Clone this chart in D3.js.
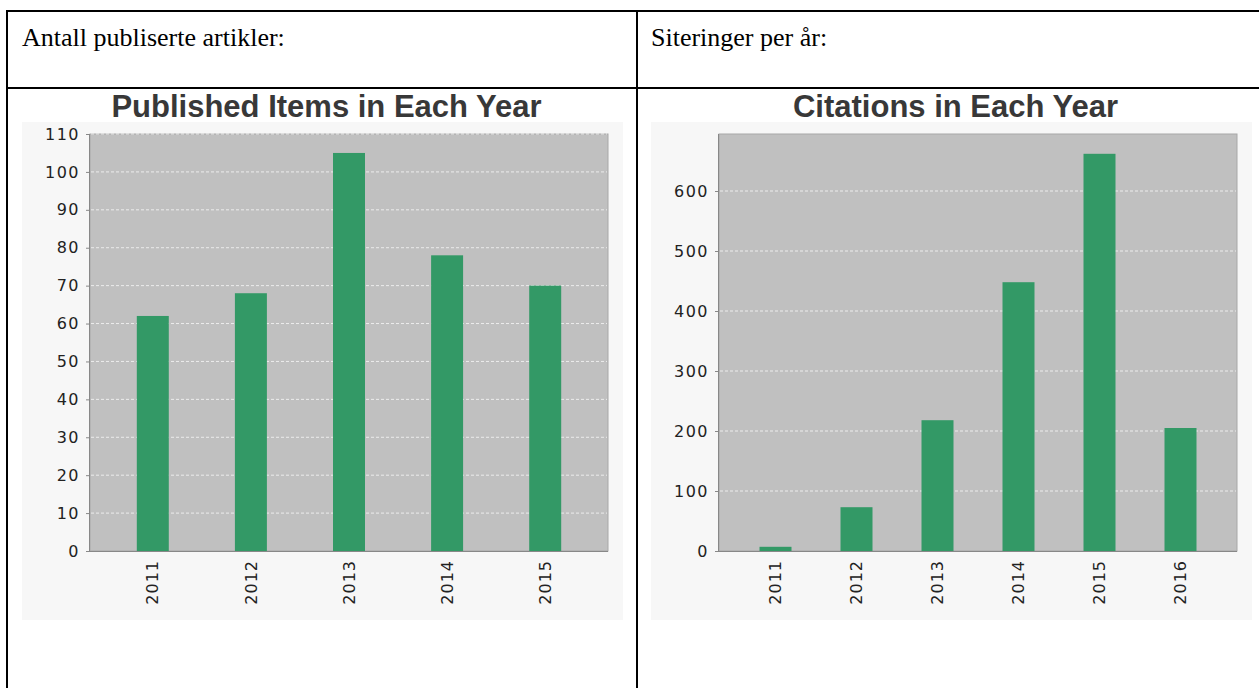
<!DOCTYPE html>
<html>
<head>
<meta charset="utf-8">
<script src="https://cdn.jsdelivr.net/npm/d3@7"></script>
<style>
  html, body { margin: 0; padding: 0; background: #ffffff; }
  svg { display: block; }
</style>
</head>
<body>
<svg id="chart" width="1259" height="688"></svg>
<script>
// ---- data ----
const headerTexts = ["Antall publiserte artikler:", "Siteringer per år:"];
const chartTitles = ["Published Items in Each Year", "Citations in Each Year"];
const pubYears = ["2011", "2012", "2013", "2014", "2015"];
const pubValues = [62, 68, 105, 78, 70];
const pubTicks = [0, 10, 20, 30, 40, 50, 60, 70, 80, 90, 100, 110];
const citYears = ["2011", "2012", "2013", "2014", "2015", "2016"];
const citValues = [7, 73, 218, 448, 662, 205];
const citTicks = [0, 100, 200, 300, 400, 500, 600];

const svg = d3.select("#chart");
svg.append("rect").attr("width", 1259).attr("height", 688).attr("fill", "#ffffff");

// ---- table frame ----
const tbl = svg.append("g").attr("stroke", "#000").attr("stroke-width", 2);
tbl.append("line").attr("x1", 6).attr("x2", 1259).attr("y1", 11).attr("y2", 11);
tbl.append("line").attr("x1", 6).attr("x2", 1259).attr("y1", 88).attr("y2", 88);
tbl.append("line").attr("x1", 7).attr("x2", 7).attr("y1", 10).attr("y2", 688);
tbl.append("line").attr("x1", 637).attr("x2", 637).attr("y1", 10).attr("y2", 688);

svg.append("text").attr("x", 22).attr("y", 46)
  .attr("font-family", "Liberation Serif, Times New Roman, serif").attr("font-size", 26)
  .attr("fill", "#000").text(headerTexts[0]);
svg.append("text").attr("x", 651).attr("y", 46)
  .attr("font-family", "Liberation Serif, Times New Roman, serif").attr("font-size", 26)
  .attr("fill", "#000").text(headerTexts[1]);

function drawChart(cfg) {
  const g = svg.append("g");
  // panel
  g.append("rect").attr("x", cfg.px0).attr("y", 122).attr("width", cfg.px1 - cfg.px0).attr("height", 498)
    .attr("fill", "#f7f7f7");
  // title
  g.append("text").attr("x", (cfg.px0 + cfg.px1) / 2 + 4).attr("y", 117)
    .attr("text-anchor", "middle")
    .attr("font-family", "Liberation Sans, Arial, sans-serif").attr("font-weight", "bold")
    .attr("font-size", 31).attr("fill", "#383838").text(cfg.title);

  const x = d3.scaleBand().domain(cfg.cats).range([cfg.x0, cfg.x1])
    .paddingInner(cfg.pi).paddingOuter(cfg.po);
  const y = d3.scaleLinear().domain([0, cfg.ymax]).range([551, 134]);

  // plot background
  g.append("rect").attr("x", cfg.x0).attr("y", 134).attr("width", cfg.x1 - cfg.x0).attr("height", 551 - 134)
    .attr("fill", "#c0c0c0").attr("stroke", "#a8a8a8").attr("stroke-width", 1);

  // grid
  g.append("g").selectAll("line").data(cfg.ticks.filter(t => t > 0)).join("line")
    .attr("x1", cfg.x0 + 1).attr("x2", cfg.x1 - 1)
    .attr("y1", d => y(d)).attr("y2", d => y(d))
    .attr("stroke", "#ffffff").attr("stroke-opacity", 0.7).attr("stroke-width", 1)
    .attr("stroke-dasharray", "3,2");

  // bars
  g.append("g").selectAll("rect").data(cfg.values).join("rect")
    .attr("x", (d, i) => x(cfg.cats[i]))
    .attr("width", x.bandwidth())
    .attr("y", d => y(d))
    .attr("height", d => y(0) - y(d))
    .attr("fill", "#339966");

  // y axis
  const ya = g.append("g").attr("transform", `translate(${cfg.x0},0)`)
    .call(d3.axisLeft(y).tickValues(cfg.ticks).tickSize(4).tickPadding(6).tickFormat(d3.format("d")));
  ya.select(".domain").attr("stroke", "#888888").attr("d", `M-0.5,134V551.5`);
  ya.selectAll(".tick line").attr("stroke", "#888888");
  ya.selectAll(".tick text").attr("font-family", "DejaVu Sans, sans-serif").attr("font-size", 16)
    .attr("letter-spacing", 1.5).attr("fill", "#222222");

  // x axis
  const xa = g.append("g").attr("transform", `translate(0,551)`)
    .call(d3.axisBottom(x).tickSize(0).tickPadding(0));
  xa.select(".domain").attr("stroke", "#888888").attr("d", `M${cfg.x0 - 4},0.5H${cfg.x1}`);
  xa.selectAll(".tick text")
    .attr("font-family", "DejaVu Sans, sans-serif").attr("font-size", 16)
    .attr("letter-spacing", 1).attr("fill", "#222222")
    .attr("text-anchor", "end")
    .attr("transform", "translate(0,9) rotate(-90)")
    .attr("x", 0).attr("y", 0).attr("dy", "0.35em");
}

drawChart({
  px0: 22, px1: 623, x0: 90, x1: 608,
  title: chartTitles[0], cats: pubYears, values: pubValues, ticks: pubTicks, ymax: 110,
  pi: 0.674, po: 0.477
});
drawChart({
  px0: 651, px1: 1252, x0: 719, x1: 1237,
  title: chartTitles[1], cats: citYears, values: citValues, ticks: citTicks, ymax: 695,
  pi: 0.605, po: 0.5
});
</script>
</body>
</html>
